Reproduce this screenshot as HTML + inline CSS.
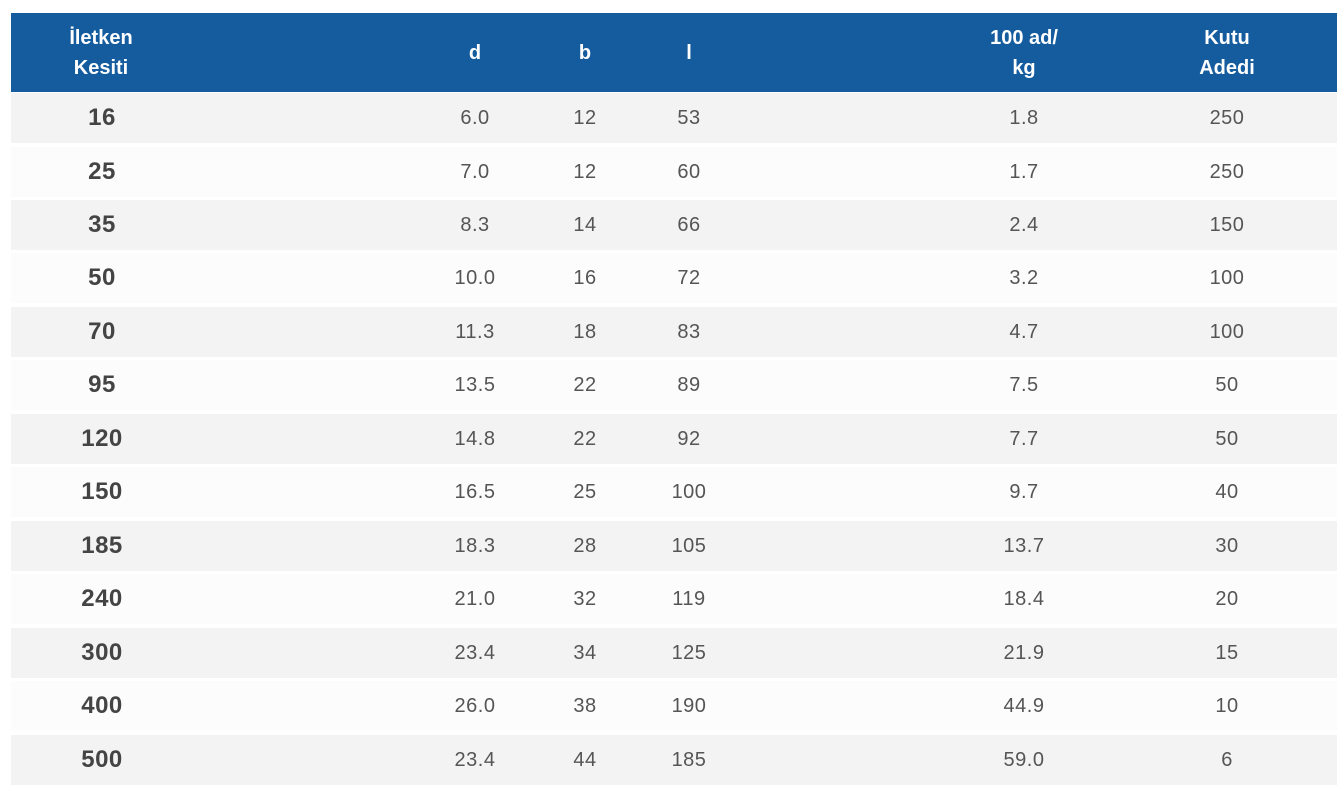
<!DOCTYPE html>
<html><head><meta charset="utf-8"><style>
body{margin:0;width:1337px;height:796px;background:#fff;position:relative;overflow:hidden;font-family:"Liberation Sans",sans-serif}
.h{position:absolute;left:11px;top:13px;width:1326px;height:79px;background:#155c9f}
.h div{position:absolute;top:0;height:79px;display:flex;align-items:center;justify-content:center;text-align:center;color:#fff;font-weight:bold;font-size:20px;line-height:30px;width:200px;margin-left:-100px}
.r{position:absolute;left:11px;width:1326px;height:50px}
.r div{position:absolute;top:0;height:50px;line-height:50px;width:200px;margin-left:-100px;text-align:center;color:#555;font-size:20px;letter-spacing:0.5px}
.r div.a{font-weight:bold;font-size:24px;color:#444;letter-spacing:0.5px}
.g{background:#f3f3f3}.w{background:#fcfcfc}
</style></head><body>
<div class="h">
<div style="left:90px">İletken<br>Kesiti</div>
<div style="left:464px">d</div>
<div style="left:574px">b</div>
<div style="left:678px">l</div>
<div style="left:1013px">100 ad/<br>kg</div>
<div style="left:1216px">Kutu<br>Adedi</div>
</div>
<div class="r g" style="top:93px"><div class="a" style="left:91px">16</div><div style="left:464px">6.0</div><div style="left:574px">12</div><div style="left:678px">53</div><div style="left:1013px">1.8</div><div style="left:1216px">250</div></div>
<div class="r w" style="top:147px"><div class="a" style="left:91px">25</div><div style="left:464px">7.0</div><div style="left:574px">12</div><div style="left:678px">60</div><div style="left:1013px">1.7</div><div style="left:1216px">250</div></div>
<div class="r g" style="top:200px"><div class="a" style="left:91px">35</div><div style="left:464px">8.3</div><div style="left:574px">14</div><div style="left:678px">66</div><div style="left:1013px">2.4</div><div style="left:1216px">150</div></div>
<div class="r w" style="top:253px"><div class="a" style="left:91px">50</div><div style="left:464px">10.0</div><div style="left:574px">16</div><div style="left:678px">72</div><div style="left:1013px">3.2</div><div style="left:1216px">100</div></div>
<div class="r g" style="top:307px"><div class="a" style="left:91px">70</div><div style="left:464px">11.3</div><div style="left:574px">18</div><div style="left:678px">83</div><div style="left:1013px">4.7</div><div style="left:1216px">100</div></div>
<div class="r w" style="top:360px"><div class="a" style="left:91px">95</div><div style="left:464px">13.5</div><div style="left:574px">22</div><div style="left:678px">89</div><div style="left:1013px">7.5</div><div style="left:1216px">50</div></div>
<div class="r g" style="top:414px"><div class="a" style="left:91px">120</div><div style="left:464px">14.8</div><div style="left:574px">22</div><div style="left:678px">92</div><div style="left:1013px">7.7</div><div style="left:1216px">50</div></div>
<div class="r w" style="top:467px"><div class="a" style="left:91px">150</div><div style="left:464px">16.5</div><div style="left:574px">25</div><div style="left:678px">100</div><div style="left:1013px">9.7</div><div style="left:1216px">40</div></div>
<div class="r g" style="top:521px"><div class="a" style="left:91px">185</div><div style="left:464px">18.3</div><div style="left:574px">28</div><div style="left:678px">105</div><div style="left:1013px">13.7</div><div style="left:1216px">30</div></div>
<div class="r w" style="top:574px"><div class="a" style="left:91px">240</div><div style="left:464px">21.0</div><div style="left:574px">32</div><div style="left:678px">119</div><div style="left:1013px">18.4</div><div style="left:1216px">20</div></div>
<div class="r g" style="top:628px"><div class="a" style="left:91px">300</div><div style="left:464px">23.4</div><div style="left:574px">34</div><div style="left:678px">125</div><div style="left:1013px">21.9</div><div style="left:1216px">15</div></div>
<div class="r w" style="top:681px"><div class="a" style="left:91px">400</div><div style="left:464px">26.0</div><div style="left:574px">38</div><div style="left:678px">190</div><div style="left:1013px">44.9</div><div style="left:1216px">10</div></div>
<div class="r g" style="top:735px"><div class="a" style="left:91px">500</div><div style="left:464px">23.4</div><div style="left:574px">44</div><div style="left:678px">185</div><div style="left:1013px">59.0</div><div style="left:1216px">6</div></div>
</body></html>
